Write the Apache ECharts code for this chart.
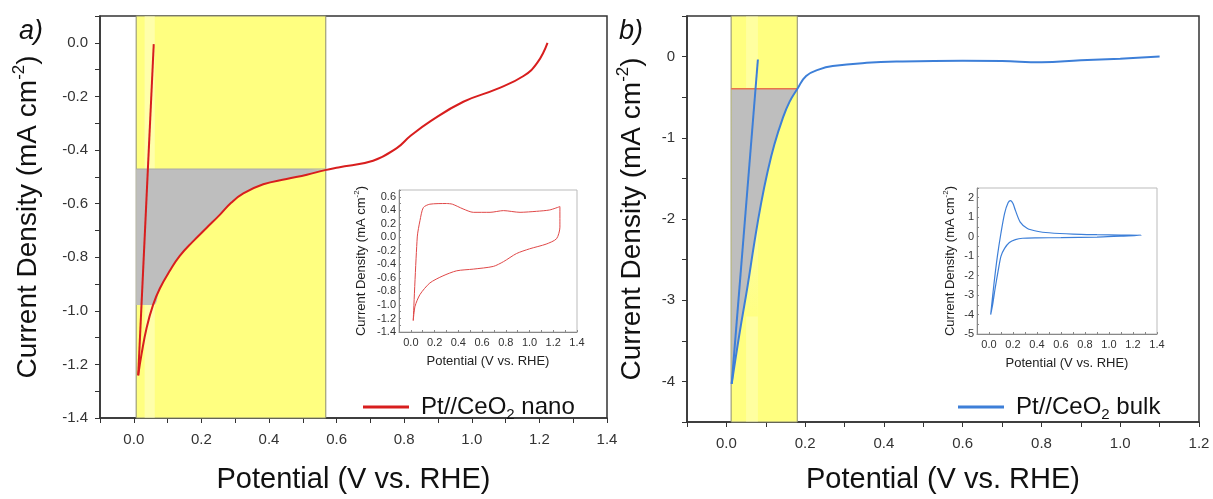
<!DOCTYPE html>
<html>
<head>
<meta charset="utf-8">
<script src="https://cdn.jsdelivr.net/npm/echarts@6/dist/echarts.min.js"></script>
<style>
html, body { margin: 0; padding: 0; background: #fff; }
#chart { width: 1213px; height: 499px; }
</style>
</head>
<body>
<div id="chart"></div>
<script>
// panel a : Pt//CeO2 nano
var nanoCurve = [[0.013,-1.241],[0.023,-1.161],[0.038,-1.063],[0.057,-0.978],[0.077,-0.917],[0.107,-0.85],
  [0.136,-0.795],[0.176,-0.74],[0.215,-0.691],[0.255,-0.641],[0.288,-0.597],[0.324,-0.562],[0.383,-0.528],
  [0.452,-0.508],[0.512,-0.492],[0.566,-0.475],[0.605,-0.465],[0.708,-0.44],[0.779,-0.392],[0.818,-0.348],
  [0.877,-0.293],[0.975,-0.22],[1.075,-0.172],[1.153,-0.124],[1.194,-0.074],[1.224,0.0]];
var nanoTangent = [[0.013,-1.241],[0.059,-0.005]];
var nanoLevel = -0.471;
var nanoFloor = -0.978;
var nanoWindow = [0.007, 0.568];
var nanoStripe = [0.032, 0.062];
var nanoCV = [[0.02,-1.23],[0.054,0.006],[0.077,0.25],[0.105,0.44],[0.16,0.49],[0.3,0.5],[0.35,0.49],
  [0.44,0.42],[0.526,0.37],[0.667,0.37],[0.78,0.395],[0.92,0.37],[1.06,0.385],[1.17,0.405],[1.256,0.455],
  [1.256,0.15],[1.228,-0.02],[1.14,-0.1],[1.0,-0.17],[0.89,-0.24],[0.78,-0.36],[0.695,-0.43],[0.526,-0.47],
  [0.386,-0.495],[0.27,-0.57],[0.16,-0.675],[0.077,-0.845],[0.035,-1.02],[0.02,-1.23]];

// panel b : Pt//CeO2 bulk
var bulkCurve = [[0.0135,-4.03],[0.033,-3.42],[0.054,-2.82],[0.071,-2.29],[0.088,-1.81],[0.105,-1.41],
  [0.122,-1.08],[0.143,-0.76],[0.16,-0.56],[0.18,-0.4],[0.2025,-0.238],[0.236,-0.157],[0.27,-0.117],
  [0.356,-0.077],[0.44,-0.06],[0.6,-0.05],[0.7,-0.055],[0.8,-0.07],[0.9,-0.045],[1.0,-0.025],[1.1,0.0]];
var bulkTangent = [[0.0135,-4.03],[0.08,-0.036]];
var bulkLevel = -0.395;
var bulkWindow = [0.012, 0.18];
var bulkStripe = [0.05, 0.08];
var bulkCV = [[0.014,-4.0],[0.04,-2.5],[0.07,-1.0],[0.1,0.2],[0.13,1.2],[0.16,1.75],[0.18,1.85],[0.2,1.7],
  [0.22,1.35],[0.26,0.75],[0.32,0.42],[0.4,0.28],[0.5,0.2],[0.7,0.13],[0.9,0.1],[1.1,0.08],[1.27,0.07],
  [1.1,0.03],[0.9,-0.02],[0.6,-0.05],[0.4,-0.06],[0.28,-0.08],[0.22,-0.15],[0.17,-0.3],[0.13,-0.6],
  [0.1,-1.0],[0.075,-1.8],[0.05,-2.7],[0.03,-3.5],[0.014,-4.0]];

var FONT = 'Liberation Sans';

function evenTenth(v) {
  var r = Math.round(v * 10);
  if (r % 2) return '';
  return (r === 0 ? 0 : r / 10).toFixed(1);
}
function wholeUnit(v) {
  var r = Math.round(v * 2);
  if (r % 2) return '';
  return String(r === 0 ? 0 : r / 2);
}
function levelLine(win, level) {
  return [[win[0], level], [win[1], level]];
}
// shaded charge region: curve inside the window, closed on the left at a floor value
function shade(curve, win, fromX, floor) {
  var pts = curve.filter(function (p) { return p[0] >= fromX && p[0] <= win[1] + 0.002; });
  if (floor !== null) pts.unshift([win[0], floor]);
  return pts;
}

var yTitle = '{t|Current Density (mA cm}{sup|-2}{t|)}';

function mainX(grid, max, gap) {
  return {
    gridIndex: grid, type: 'value', min: -0.1, max: max, interval: 0.1,
    axisLine: { show: true, onZero: false, lineStyle: { color: '#333', width: 1.5 } },
    axisTick: { show: true, length: 5, lineStyle: { color: '#333' } },
    axisLabel: { formatter: evenTenth, fontSize: 15, color: '#333', margin: 14, fontFamily: FONT },
    splitLine: { show: false },
    name: 'Potential (V vs. RHE)', nameLocation: 'middle', nameGap: gap,
    nameTextStyle: { fontSize: 29, color: '#111', fontFamily: FONT }
  };
}
function mainY(grid, min, max, step, fmt, gap) {
  return {
    gridIndex: grid, type: 'value', min: min, max: max, interval: step,
    axisLine: { show: true, onZero: false, lineStyle: { color: '#333', width: 1.5 } },
    axisTick: { show: true, length: 5, lineStyle: { color: '#333' } },
    axisLabel: { formatter: fmt, fontSize: 15, color: '#333', margin: 12, fontFamily: FONT },
    splitLine: { show: false },
    name: yTitle, nameLocation: 'middle', nameGap: gap,
    nameTextStyle: { color: '#111', fontFamily: FONT, rich: {
      t: { fontSize: 28, lineHeight: 34, color: '#111', fontFamily: FONT },
      sup: { fontSize: 17, lineHeight: 17, verticalAlign: 'top', color: '#111', fontFamily: FONT }
    } }
  };
}
function insetX(grid) {
  return {
    gridIndex: grid, type: 'value', min: -0.1, max: 1.4, interval: 0.1,
    axisLine: { show: true, onZero: false, lineStyle: { color: '#888', width: 1 } },
    axisTick: { show: true, inside: true, length: 2, lineStyle: { color: '#888' } },
    axisLabel: { formatter: evenTenth, fontSize: 11, color: '#333', margin: 5, fontFamily: FONT },
    splitLine: { show: false },
    name: 'Potential (V vs. RHE)', nameLocation: 'middle', nameGap: 23,
    nameTextStyle: { fontSize: 13, color: '#222', fontFamily: FONT }
  };
}
function insetY(grid, min, max, step, fmt, gap) {
  return {
    gridIndex: grid, type: 'value', min: min, max: max, interval: step,
    axisLine: { show: true, onZero: false, lineStyle: { color: '#888', width: 1 } },
    axisTick: { show: true, inside: true, length: 2, lineStyle: { color: '#888' } },
    axisLabel: { formatter: fmt, fontSize: 11, color: '#333', margin: 3, fontFamily: FONT },
    splitLine: { show: false },
    name: yTitle, nameLocation: 'middle', nameGap: gap,
    nameTextStyle: { color: '#222', fontFamily: FONT, rich: {
      t: { fontSize: 13, lineHeight: 16, color: '#222', fontFamily: FONT },
      sup: { fontSize: 8, lineHeight: 8, verticalAlign: 'top', color: '#222', fontFamily: FONT }
    } }
  };
}
function legendName(name) {
  var parts = name.split('2');
  return '{a|' + parts[0] + '}{s|2}{a|' + parts[1] + '}';
}
function legendBox(name, left) {
  return {
    data: [name], left: left, top: 390, icon: 'rect', itemWidth: 46, itemHeight: 3,
    formatter: legendName,
    textStyle: { fontSize: 24, color: '#111', fontFamily: FONT, padding: [0, 0, 0, 7], rich: {
      a: { fontSize: 24, lineHeight: 30, color: '#111', fontFamily: FONT },
      s: { fontSize: 15, lineHeight: 15, verticalAlign: 'bottom', color: '#111', fontFamily: FONT }
    } }
  };
}
function windowArea(win, stripe, stripeColor) {
  return {
    silent: true,
    data: [
      [{ xAxis: win[0], itemStyle: { color: '#ffff80', borderColor: '#8c8c70', borderWidth: 1 } }, { xAxis: win[1] }],
      [{ xAxis: stripe[0], itemStyle: { color: stripeColor, borderWidth: 0 } }, { xAxis: stripe[1] }]
    ]
  };
}

var optionPanels = {
  backgroundColor: '#fff',
  animation: false,
  grid: [
    { left: 100, top: 16, width: 507, height: 409, show: true, borderColor: '#333', borderWidth: 1.5, backgroundColor: '#fff' },
    { left: 687, top: 16, width: 512, height: 413, show: true, borderColor: '#333', borderWidth: 1.5, backgroundColor: '#fff' },
    { left: 399, top: 190, width: 178, height: 142, show: true, borderColor: '#bbb', borderWidth: 1, backgroundColor: '#fff' },
    { left: 977, top: 188, width: 180, height: 146, show: true, borderColor: '#bbb', borderWidth: 1, backgroundColor: '#fff' }
  ],
  xAxis: [ mainX(0, 1.4, 47), mainX(1, 1.2, 43), insetX(2), insetX(3) ],
  yAxis: [
    mainY(0, -1.4, 0.1, 0.1, evenTenth, 55),
    mainY(1, -4.5, 0.5, 0.5, wholeUnit, 38),
    insetY(2, -1.4, 0.7, 0.1, evenTenth, 30),
    insetY(3, -5, 2.5, 0.5, wholeUnit, 19)
  ],
  legend: [ legendBox('Pt//CeO2 nano', 358), legendBox('Pt//CeO2 bulk', 953) ],
  graphic: [
    { type: 'text', left: 19, top: 18, style: { text: 'a)', font: 'italic 27px "Liberation Sans"', fill: '#111' } },
    { type: 'text', left: 619, top: 18, style: { text: 'b)', font: 'italic 27px "Liberation Sans"', fill: '#111' } }
  ],
  series: [
    // panel a
    { type: 'line', xAxisIndex: 0, yAxisIndex: 0, data: [], z: 1,
      markArea: windowArea(nanoWindow, [nanoStripe[0], nanoStripe[1]], 'rgba(255,255,235,0.4)') },
    { type: 'line', xAxisIndex: 0, yAxisIndex: 0, data: shade(nanoCurve, nanoWindow, 0.057, nanoFloor), z: 2,
      smooth: 0.45, symbol: 'none', silent: true, lineStyle: { width: 0 },
      areaStyle: { origin: nanoLevel, color: '#bebebe', opacity: 1 } },
    { type: 'line', xAxisIndex: 0, yAxisIndex: 0, data: levelLine(nanoWindow, nanoLevel), z: 3,
      symbol: 'none', lineStyle: { color: '#a8a8a8', width: 1 } },
    { type: 'line', xAxisIndex: 0, yAxisIndex: 0, data: [], z: 3,
      markArea: { silent: true, data: [[{ xAxis: nanoStripe[0], yAxis: nanoFloor,
        itemStyle: { color: 'rgba(255,255,225,0.45)' } }, { xAxis: nanoStripe[1], yAxis: nanoLevel }]] } },
    { name: 'Pt//CeO2 nano', type: 'line', xAxisIndex: 0, yAxisIndex: 0, data: nanoTangent, z: 4,
      symbol: 'none', color: '#d81e1e', lineStyle: { color: '#d81e1e', width: 2 } },
    { name: 'Pt//CeO2 nano', type: 'line', xAxisIndex: 0, yAxisIndex: 0, data: nanoCurve, z: 4,
      smooth: 0.45, symbol: 'none', color: '#d81e1e', lineStyle: { color: '#d81e1e', width: 2 } },
    // panel b
    { type: 'line', xAxisIndex: 1, yAxisIndex: 1, data: [], z: 1,
      markArea: windowArea(bulkWindow, bulkStripe, 'rgba(255,255,235,0.3)') },
    { type: 'line', xAxisIndex: 1, yAxisIndex: 1, data: shade(bulkCurve, bulkWindow, 0, null), z: 2,
      smooth: 0.45, symbol: 'none', silent: true, lineStyle: { width: 0 },
      areaStyle: { origin: bulkLevel, color: '#bebebe', opacity: 1 } },
    { type: 'line', xAxisIndex: 1, yAxisIndex: 1, data: [], z: 3,
      markArea: { silent: true, data: [[{ xAxis: bulkStripe[0], yAxis: -3.2,
        itemStyle: { color: new echarts.graphic.LinearGradient(0, 0, 0, 1, [
          { offset: 0, color: 'rgba(250,250,200,0.35)' }, { offset: 1, color: 'rgba(255,255,128,0.95)' }]) } },
        { xAxis: bulkStripe[1], yAxis: bulkLevel }]] } },
    { type: 'line', xAxisIndex: 1, yAxisIndex: 1, data: levelLine(bulkWindow, bulkLevel), z: 3,
      symbol: 'none', lineStyle: { color: '#e8744a', width: 1.5 } },
    { name: 'Pt//CeO2 bulk', type: 'line', xAxisIndex: 1, yAxisIndex: 1, data: bulkTangent, z: 4,
      symbol: 'none', color: '#3d7fd8', lineStyle: { color: '#3d7fd8', width: 2 } },
    { name: 'Pt//CeO2 bulk', type: 'line', xAxisIndex: 1, yAxisIndex: 1, data: bulkCurve, z: 4,
      smooth: 0.45, symbol: 'none', color: '#3d7fd8', lineStyle: { color: '#3d7fd8', width: 2 } },
    // insets
    { type: 'line', xAxisIndex: 2, yAxisIndex: 2, data: nanoCV, smooth: 0.25, symbol: 'none',
      lineStyle: { color: '#e04848', width: 1 } },
    { type: 'line', xAxisIndex: 3, yAxisIndex: 3, data: bulkCV, smooth: 0.25, symbol: 'none',
      lineStyle: { color: '#3d7fd8', width: 1.2 } }
  ]
};

function initPanels(echarts) {
  var chart = echarts.init(document.getElementById('chart'));
  chart.setOption(optionPanels);
}
initPanels(echarts);
</script>
</body>
</html>
